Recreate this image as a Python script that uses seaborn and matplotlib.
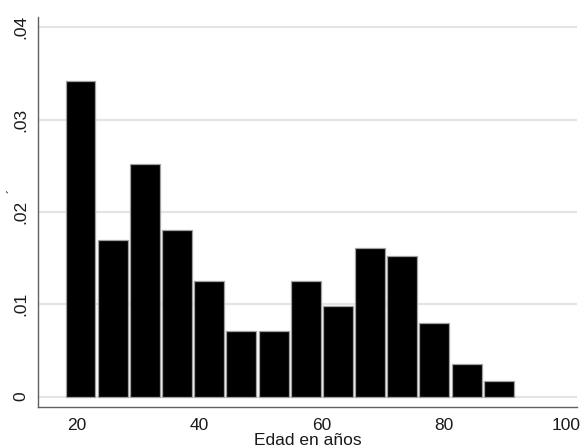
import matplotlib
matplotlib.use("Agg")
import matplotlib.pyplot as plt
import seaborn as sns
import pandas as pd
import numpy as np

# Histogram of age (density scale)
bin_edges = np.linspace(18, 91.6, 15)
density = [0.0342, 0.0170, 0.0252, 0.0180, 0.0125, 0.0071, 0.0071,
           0.0125, 0.0098, 0.0161, 0.0152, 0.0080, 0.0035, 0.0017]
x_ticks = [20, 40, 60, 80, 100]
y_ticks = [0, 0.01, 0.02, 0.03, 0.04]
y_labels = ["0", ".01", ".02", ".03", ".04"]

df = pd.DataFrame({
    'edad': (bin_edges[:-1] + bin_edges[1:]) / 2,
    'dens': density,
})

sns.set_style("white")
plt.rcParams['font.family'] = ['Liberation Sans', 'DejaVu Sans']

fig = plt.figure(figsize=(5.82, 4.48), dpi=100)
ax = fig.add_axes([0.0658, 0.0922, 0.9251, 0.8705])

ax.grid(axis='y', color='#e4e4e4', linewidth=1.5, zorder=0)
ax.set_axisbelow(True)

sns.histplot(data=df, x='edad', weights='dens', bins=list(bin_edges), ax=ax,
             color='black', alpha=1, edgecolor='#a0a0a0', linewidth=0.9,
             shrink=0.93, zorder=2)

ax.set_xlim(13.73, 101.7)
ax.set_ylim(-0.0011, 0.04115)
ax.set_xticks(x_ticks)
ax.set_yticks(y_ticks)
ax.set_yticklabels(y_labels, rotation=90, va='center')

for side in ['top', 'right']:
    ax.spines[side].set_visible(False)
for side in ['left', 'bottom']:
    ax.spines[side].set_color('#606060')
    ax.spines[side].set_linewidth(1.0)

ax.tick_params(axis='both', direction='out', length=5, width=1,
               color='#606060', labelsize=12.5, labelcolor='#1a1a1a')
ax.tick_params(axis='x', pad=3.5)
ax.tick_params(axis='y', pad=2.5)

ax.set_xlabel("Edad en años", fontsize=12.5, color='#1a1a1a', labelpad=-0.5)
ax.set_ylabel("´", fontsize=9, color='#1a1a1a')
ax.yaxis.set_label_coords(-0.034, 0.553)

fig.savefig("out.png", dpi=100)
